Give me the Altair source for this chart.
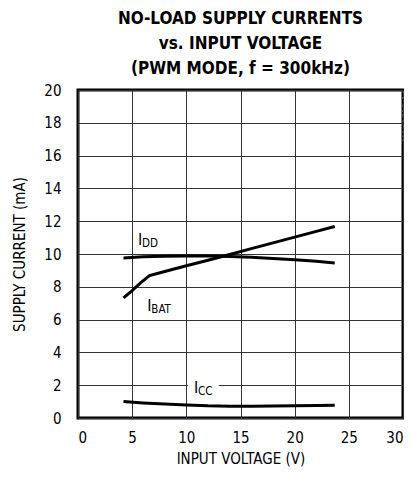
import altair as alt
import pandas as pd

FONT = "DejaVu Sans Condensed"

# Curves
vin_idd = [4.2, 6, 8, 10, 12, 14, 16, 18, 20, 22, 23.7]
idd = [9.76, 9.83, 9.87, 9.88, 9.88, 9.85, 9.80, 9.73, 9.65, 9.56, 9.45]

vin_ibat = [4.2, 5.0, 5.8, 6.6, 8, 10, 12, 14, 16, 18, 20, 22, 23.7]
ibat = [7.32, 7.77, 8.25, 8.68, 8.93, 9.28, 9.62, 9.97, 10.33, 10.68, 11.03, 11.38, 11.68]

vin_icc = [4.2, 6, 8, 10, 12, 14, 16, 18, 20, 22, 23.7]
icc = [1.00, 0.92, 0.85, 0.79, 0.74, 0.72, 0.72, 0.73, 0.75, 0.76, 0.77]

x_ticks = [0, 5, 10, 15, 20, 25, 30]
y_ticks = [0, 2, 4, 6, 8, 10, 12, 14, 16, 18, 20]

# Curve labels (I + subscript)
lab_sub = ["DD", "BAT", "CC"]
lab_x = [5.53, 6.4, 10.7]
lab_y = [10.57, 6.51, 1.52]

# White knock-out behind the I_CC label
box_x = [10.15]
box_x2 = [13.0]
box_y = [1.55]
box_y2 = [2.45]

side_text = ["MAX1710-14"]
side_x = [30.3]
side_y = [16.85]

rows = []
for name, xs_, ys_ in [("IDD", vin_idd, idd), ("IBAT", vin_ibat, ibat), ("ICC", vin_icc, icc)]:
    rows += [{"series": name, "v": a, "i": b} for a, b in zip(xs_, ys_)]
df = pd.DataFrame(rows)
df_lab = pd.DataFrame({"x": lab_x, "y": lab_y, "sub": lab_sub, "main": ["I"] * 3})
df_box = pd.DataFrame({"x": box_x, "x2": box_x2, "y": box_y, "y2": box_y2})
df_side = pd.DataFrame({"x": side_x, "y": side_y, "t": side_text})

xs = alt.Scale(domain=[0, 30], nice=False)
ys = alt.Scale(domain=[0, 20], nice=False)

x_axis = alt.Axis(values=x_ticks, title="INPUT VOLTAGE (V)", labelPadding=12,
                  titlePadding=6, labelOverlap=False, grid=True, ticks=False, domain=False)
y_axis = alt.Axis(values=y_ticks, title="SUPPLY CURRENT (mA)", labelPadding=17,
                  titlePadding=16, labelOverlap=False, grid=True, ticks=False, domain=False)


def X(field):
    return alt.X(field, type="quantitative", scale=xs, axis=x_axis)


def Y(field):
    return alt.Y(field, type="quantitative", scale=ys, axis=y_axis)


lines = alt.Chart(df).mark_line(color="black", strokeWidth=3).encode(
    x=X("v"), y=Y("i"), detail="series:N"
)

box = alt.Chart(df_box).mark_rect(color="white").encode(
    x=X("x"), x2="x2:Q", y=Y("y"), y2="y2:Q"
)

main_txt = alt.Chart(df_lab).mark_text(
    font=FONT, fontSize=16, align="left", baseline="alphabetic", color="black"
).encode(x=X("x"), y=Y("y"), text="main:N")

sub_txt = alt.Chart(df_lab).mark_text(
    font=FONT, fontSize=11.5, align="left", baseline="alphabetic", color="black", dx=4, dy=2
).encode(x=X("x"), y=Y("y"), text="sub:N")

side = alt.Chart(df_side).mark_text(
    font=FONT, fontSize=9, angle=270, align="left", baseline="middle", color="#555"
).encode(x=X("x"), y=Y("y"), text="t:N")

chart = (
    alt.layer(lines, box, main_txt, sub_txt, side)
    .properties(
        width=325,
        height=328,
        padding={"left": 70, "top": 82, "right": 1, "bottom": 60},
        autosize=alt.AutoSizeParams(type="none"),
        title=alt.TitleParams(
            text=["NO-LOAD SUPPLY CURRENTS", "vs. INPUT VOLTAGE", "(PWM MODE, f = 300kHz)"],
            font=FONT,
            fontSize=17,
            fontWeight="bold",
            lineHeight=25,
            anchor="middle",
            color="black",
            offset=5,
        ),
    )
    .configure_view(stroke="black", strokeWidth=3)
    .configure_axis(
        labelFont=FONT,
        labelFontSize=15,
        labelColor="black",
        titleFont=FONT,
        titleFontSize=15,
        titleFontWeight="normal",
        titleColor="black",
        gridColor="#333",
        gridWidth=1,
        gridOpacity=1,
    )
)

chart.save("out.html", embed_options={"renderer": "svg", "actions": False})
